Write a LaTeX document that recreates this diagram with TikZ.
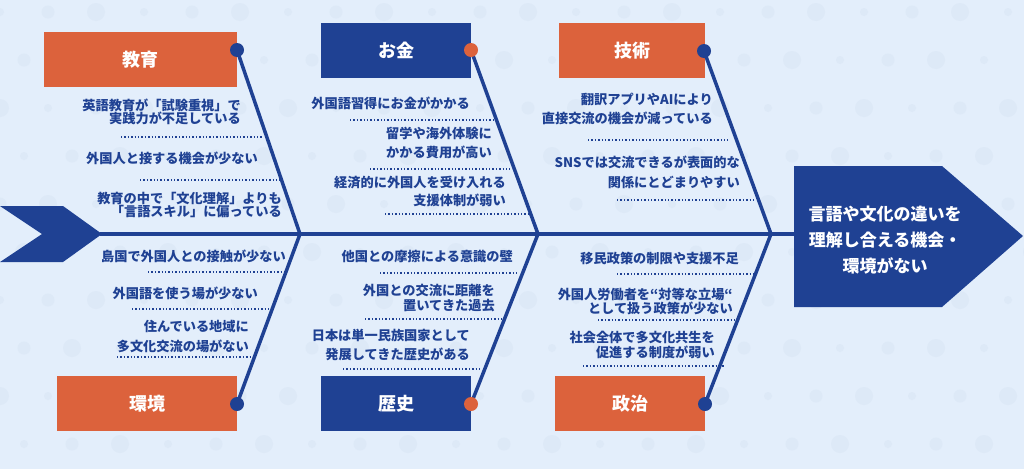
\documentclass[tikz,border=0pt]{standalone}
\usepackage{fontspec}
\setmainfont{Noto Sans CJK JP}

\definecolor{navy}{HTML}{1F4193}
\definecolor{rust}{HTML}{DC623C}
\definecolor{paper}{HTML}{E3EEFB}
\definecolor{speck}{HTML}{DDE9F7}

\begin{document}
\begin{tikzpicture}[x=1pt, y=-1pt,
	catbox/.style={fill=#1, text=white, inner sep=0pt, font=\fontsize{18}{20}\selectfont\bfseries},
	cause/.style={anchor=east, align=right, inner sep=0pt, text=navy, font=\fontsize{13.2}{19}\selectfont\bfseries},
	bone/.style={draw=navy, line width=3.5pt},
	sepline/.style={draw=navy, line width=1.4pt, dash pattern=on 1.4pt off 2pt}]
	\useasboundingbox (0,0) rectangle (1024,469);
	\fill[paper] (0,0) rectangle (1024,469);
	\foreach \i in {0,...,21}
		\foreach \j in {0,...,9}
			\fill[speck] ({\i*48+mod(\j,2)*24},{\j*48+12}) circle ({4+mod(\i+\j,3)*2.5});

	% tail, spine and head
	\fill[navy] (0,206) -- (63,206) -- (102,234) -- (63,262) -- (0,262) -- (42,234) -- cycle;
	\fill[navy] (794,166) -- (942,166) -- (1023,236) -- (942,307) -- (794,307) -- cycle;
	\coordinate (tail) at (100,234);
	\coordinate (headin) at (794,234);
	\node[text=white, align=center, font=\fontsize{17}{26}\selectfont\bfseries] (head) at (885,240) {言語や文化の違いを\\理解し合える機会・\\環境がない};
	\draw[bone] (tail) -- (headin);

	% junctions on the spine
	\coordinate (j1) at (300,234);
	\coordinate (j2) at (538,234);
	\coordinate (j3) at (771,234);

	% category boxes
	\node[catbox=rust, minimum width=193, minimum height=55] (edu) at (140.5,59.5) {教育};
	\node[catbox=navy, minimum width=150, minimum height=55] (money) at (396,50.5) {お金};
	\node[catbox=rust, minimum width=146, minimum height=55] (tech) at (632,50.5) {技術};
	\node[catbox=rust, minimum width=180, minimum height=55] (env) at (147,403.5) {環境};
	\node[catbox=navy, minimum width=150, minimum height=55] (hist) at (396,403.5) {歴史};
	\node[catbox=rust, minimum width=150, minimum height=55] (pol) at (630,403.5) {政治};

	% bones
	\coordinate (d1) at (237,50);
	\coordinate (d2) at (471,50);
	\coordinate (d3) at (704,51);
	\coordinate (d4) at (237,404);
	\coordinate (d5) at (471,404);
	\coordinate (d6) at (705,404);
	\draw[bone] (d1) -- (j1);
	\draw[bone] (d2) -- (j2);
	\draw[bone] (d3) -- (j3);
	\draw[bone] (d4) -- (j1);
	\draw[bone] (d5) -- (j2);
	\draw[bone] (d6) -- (j3);
	\fill[navy] (d1) circle (7);
	\fill[rust] (d2) circle (7);
	\fill[navy] (d3) circle (7);
	\fill[navy] (d4) circle (7);
	\fill[rust] (d5) circle (7);
	\fill[navy] (d6) circle (7);

	% causes: education
	\node[cause] (a1) at (241,112) {英語教育が「試験重視」で\\[-6pt]実践力が不足している};
	\draw[sepline] (121,137) -- (263,137);
	\node[cause] (a2) at (258,158) {外国人と接する機会が少ない};
	\draw[sepline] (140,180) -- (280,180);
	\node[cause] (a3) at (282,204.5) {教育の中で「文化理解」よりも\\[-6pt]「言語スキル」に偏っている};

	% causes: money
	\node[cause] (b1) at (470,103) {外国語習得にお金がかかる};
	\draw[sepline] (350,120) -- (493,120);
	\node[cause] (b2) at (492,142.5) {留学や海外体験に\\かかる費用が高い};
	\draw[sepline] (370,169) -- (510,169);
	\node[cause] (b3) at (506,191) {経済的に外国人を受け入れる\\[-1pt]支援体制が弱い};
	\draw[sepline] (385,214) -- (528,214);

	% causes: technology
	\node[cause] (c1) at (713,108.5) {翻訳アプリやAIにより\\直接交流の機会が減っている};
	\draw[sepline] (588,140) -- (728,140);
	\node[cause] (c2) at (740,172) {SNSでは交流できるが表面的な\\[1pt]関係にとどまりやすい};
	\draw[sepline] (617,200) -- (755,200);

	% causes: environment
	\node[cause] (d1t) at (286,256) {島国で外国人との接触が少ない};
	\draw[sepline] (148,272) -- (287,272);
	\node[cause] (d2t) at (258,293) {外国語を使う場が少ない};
	\draw[sepline] (132,309) -- (270,309);
	\node[cause] (d3t) at (249,336) {住んでいる地域に\\[1pt]多文化交流の場がない};
	\draw[sepline] (117,357) -- (252,357);

	% causes: history
	\node[cause] (e1) at (513,257) {他国との摩擦による意識の壁};
	\draw[sepline] (380,273) -- (518,273);
	\node[cause] (e2) at (495,298.5) {外国との交流に距離を\\[-4pt]置いてきた過去};
	\draw[sepline] (365,319) -- (502,319);
	\node[cause] (e3) at (470,344.5) {日本は単一民族国家として\\発展してきた歴史がある};
	\draw[sepline] (343,369) -- (482,369);

	% causes: politics
	\node[cause] (f1) at (739,258) {移民政策の制限や支援不足};
	\draw[sepline] (617,274) -- (755,274);
	\node[cause] (f2) at (733,301) {外国人労働者を“対等な立場“\\[-5pt]として扱う政策が少ない};
	\draw[sepline] (598,320) -- (737,320);
	\node[cause] (f3) at (715,344.5) {社会全体で多文化共生を\\[-4pt]促進する制度が弱い};
	\draw[sepline] (583,366) -- (725,366);
\end{tikzpicture}
\end{document}
